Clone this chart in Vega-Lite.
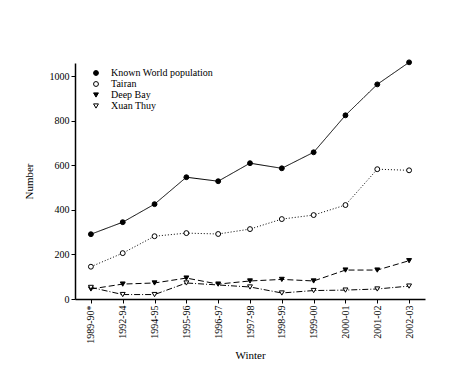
{
  "$schema": "https://vega.github.io/schema/vega-lite/v6.json",
  "autosize": "none",
  "width": 350,
  "height": 236,
  "padding": {"left": 75, "top": 63, "right": 45, "bottom": 71},
  "background": "white",
  "config": {
    "font": "Liberation Serif",
    "view": {"stroke": null},
    "axis": {"grid": false, "domainColor": "black", "tickColor": "black", "labelColor": "black", "titleColor": "black", "labelFont": "Liberation Serif", "titleFont": "Liberation Serif", "labelFontSize": 10, "titleFontSize": 11, "titleFontWeight": "normal", "domainWidth": 1.5, "tickWidth": 1, "tickSize": 4},
    "legend": {"orient": "none", "legendX": 16, "legendY": 5, "labelFont": "Liberation Serif", "labelFontSize": 10, "labelColor": "black", "symbolSize": 24, "rowPadding": 1, "labelOffset": 10, "symbolStrokeWidth": 1}
  },
  "resolve": {"legend": {"strokeDash": "independent"}},
  "data": {"values": [
    {"w":"1989-90*","s":"Known World population","v":291},
    {"w":"1992-94","s":"Known World population","v":345},
    {"w":"1994-95","s":"Known World population","v":426},
    {"w":"1995-96","s":"Known World population","v":547},
    {"w":"1996-97","s":"Known World population","v":529},
    {"w":"1997-98","s":"Known World population","v":610},
    {"w":"1998-99","s":"Known World population","v":587},
    {"w":"1999-00","s":"Known World population","v":659},
    {"w":"2000-01","s":"Known World population","v":825},
    {"w":"2001-02","s":"Known World population","v":964},
    {"w":"2002-03","s":"Known World population","v":1063},
    {"w":"1989-90*","s":"Tairan","v":145},
    {"w":"1992-94","s":"Tairan","v":206},
    {"w":"1994-95","s":"Tairan","v":282},
    {"w":"1995-96","s":"Tairan","v":296},
    {"w":"1996-97","s":"Tairan","v":292},
    {"w":"1997-98","s":"Tairan","v":314},
    {"w":"1998-99","s":"Tairan","v":359},
    {"w":"1999-00","s":"Tairan","v":377},
    {"w":"2000-01","s":"Tairan","v":422},
    {"w":"2001-02","s":"Tairan","v":583},
    {"w":"2002-03","s":"Tairan","v":578},
    {"w":"1989-90*","s":"Deep Bay","v":45},
    {"w":"1992-94","s":"Deep Bay","v":67},
    {"w":"1994-95","s":"Deep Bay","v":72},
    {"w":"1995-96","s":"Deep Bay","v":94},
    {"w":"1996-97","s":"Deep Bay","v":67},
    {"w":"1997-98","s":"Deep Bay","v":81},
    {"w":"1998-99","s":"Deep Bay","v":88},
    {"w":"1999-00","s":"Deep Bay","v":81},
    {"w":"2000-01","s":"Deep Bay","v":130},
    {"w":"2001-02","s":"Deep Bay","v":130},
    {"w":"2002-03","s":"Deep Bay","v":172},
    {"w":"1989-90*","s":"Xuan Thuy","v":52},
    {"w":"1992-94","s":"Xuan Thuy","v":20},
    {"w":"1994-95","s":"Xuan Thuy","v":20},
    {"w":"1995-96","s":"Xuan Thuy","v":72},
    {"w":"1997-98","s":"Xuan Thuy","v":54},
    {"w":"1998-99","s":"Xuan Thuy","v":27},
    {"w":"1999-00","s":"Xuan Thuy","v":38},
    {"w":"2000-01","s":"Xuan Thuy","v":40},
    {"w":"2001-02","s":"Xuan Thuy","v":45},
    {"w":"2002-03","s":"Xuan Thuy","v":58}
  ]},
  "encoding": {
    "x": {"field": "w", "type": "ordinal", "scale": {"type": "point", "padding": 0.5}, "sort": null,
      "axis": {"title": "Winter", "titleFontWeight": "normal", "labelAngle": 270, "labelAlign": "right", "labelBaseline": "middle", "titlePadding": 6}},
    "y": {"field": "v", "type": "quantitative", "scale": {"domain": [0, 1060], "nice": false},
      "axis": {"title": "Number", "titleFontWeight": "normal", "format": "d", "values": [0, 200, 400, 600, 800, 1000], "titlePadding": 15}}
  },
  "layer": [
    {
      "mark": {"type": "line", "color": "black", "strokeWidth": 1},
      "encoding": {
        "detail": {"field": "s"},
        "strokeDash": {"field": "s", "type": "nominal", "sort": ["Known World population","Tairan","Deep Bay","Xuan Thuy"],
          "scale": {"domain": ["Known World population","Tairan","Deep Bay","Xuan Thuy"], "range": [[1,0],[1,2],[6,3],[6,2,1,2]]},
          "legend": null}
      }
    },
    {
      "mark": {"type": "point", "stroke": "black", "strokeWidth": 1, "opacity": 1, "size": 24, "filled": false},
      "encoding": {
        "shape": {"field": "s", "type": "nominal", "sort": ["Known World population","Tairan","Deep Bay","Xuan Thuy"],
          "scale": {"domain": ["Known World population","Tairan","Deep Bay","Xuan Thuy"], "range": ["circle","circle","triangle-down","triangle-down"]},
          "legend": {"title": null}},
        "fill": {"field": "s", "type": "nominal", "sort": ["Known World population","Tairan","Deep Bay","Xuan Thuy"],
          "scale": {"domain": ["Known World population","Tairan","Deep Bay","Xuan Thuy"], "range": ["black","white","black","white"]},
          "legend": {"title": null}}
      }
    }
  ]
}
